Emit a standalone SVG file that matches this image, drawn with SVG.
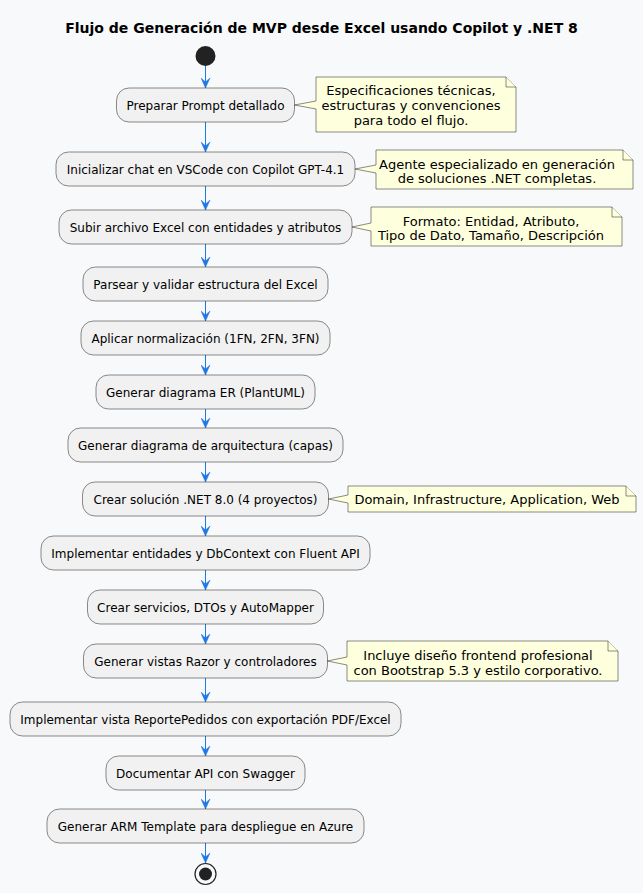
<svg xmlns="http://www.w3.org/2000/svg" width="643" height="893" viewBox="0 0 643 893">
<defs>
<style>
.bg{fill:#F8F9FA}
.act rect{fill:#F1F1F1;stroke:#181818;stroke-width:0.5}
.act text{font-family:"DejaVu Sans","Noto Sans",sans-serif;font-size:12px;fill:#000;text-anchor:middle}
.note path{fill:#FEFFDD;stroke:#181818;stroke-width:0.5}
.note text{font-family:"DejaVu Sans","Noto Sans",sans-serif;font-size:13px;fill:#000;text-anchor:middle}
.title{font-family:"DejaVu Sans","Noto Sans",sans-serif;font-size:14px;font-weight:bold;fill:#000;text-anchor:middle}
.conn line{stroke:#1E78E6;stroke-width:1;marker-end:url(#ah)}
</style>
<marker id="ah" markerUnits="userSpaceOnUse" markerWidth="10" markerHeight="10" refX="10" refY="5" orient="auto" viewBox="0 0 10 10">
<path d="M0,0.5 L10,5 L0,9.5 L4,5 Z" fill="#1E78E6" stroke="#1E78E6" stroke-width="0.5"/>
</marker>
</defs>
<rect class="bg" x="0" y="0" width="643" height="893"/>
<text class="title" x="321.5" y="33">Flujo de Generación de MVP desde Excel usando Copilot y .NET 8</text>

<g id="connectors" class="conn">
<line x1="205.5" y1="66" x2="205.5" y2="88"/>
<line x1="205.5" y1="122" x2="205.5" y2="152"/>
<line x1="205.5" y1="186" x2="205.5" y2="210"/>
<line x1="205.5" y1="244" x2="205.5" y2="267"/>
<line x1="205.5" y1="301" x2="205.5" y2="321"/>
<line x1="205.5" y1="355" x2="205.5" y2="375"/>
<line x1="205.5" y1="409" x2="205.5" y2="428"/>
<line x1="205.5" y1="462" x2="205.5" y2="482"/>
<line x1="205.5" y1="516" x2="205.5" y2="536"/>
<line x1="205.5" y1="570" x2="205.5" y2="590"/>
<line x1="205.5" y1="624" x2="205.5" y2="644"/>
<line x1="205.5" y1="678" x2="205.5" y2="702"/>
<line x1="205.5" y1="736" x2="205.5" y2="756"/>
<line x1="205.5" y1="790" x2="205.5" y2="809"/>
<line x1="205.5" y1="843" x2="205.5" y2="863"/>
</g>

<g id="start"><circle cx="205.5" cy="56" r="10" fill="#222222"/></g>

<g id="a1" class="act"><rect x="116.5" y="88" width="178" height="34" rx="12.5"/><text x="205.5" y="109.5">Preparar Prompt detallado</text></g>
<g id="a2" class="act"><rect x="56" y="152" width="299" height="34" rx="12.5"/><text x="205.5" y="173.5">Inicializar chat en VSCode con Copilot GPT-4.1</text></g>
<g id="a3" class="act"><rect x="59" y="210" width="293" height="34" rx="12.5"/><text x="205.5" y="231.5">Subir archivo Excel con entidades y atributos</text></g>
<g id="a4" class="act"><rect x="83" y="267" width="245" height="34" rx="12.5"/><text x="205.5" y="288.5">Parsear y validar estructura del Excel</text></g>
<g id="a5" class="act"><rect x="81" y="321" width="249" height="34" rx="12.5"/><text x="205.5" y="342.5">Aplicar normalización (1FN, 2FN, 3FN)</text></g>
<g id="a6" class="act"><rect x="96" y="375" width="219" height="34" rx="12.5"/><text x="205.5" y="396.5">Generar diagrama ER (PlantUML)</text></g>
<g id="a7" class="act"><rect x="68" y="428" width="275" height="34" rx="12.5"/><text x="205.5" y="449.5">Generar diagrama de arquitectura (capas)</text></g>
<g id="a8" class="act"><rect x="82.5" y="482" width="246" height="34" rx="12.5"/><text x="205.5" y="503.5">Crear solución .NET 8.0 (4 proyectos)</text></g>
<g id="a9" class="act"><rect x="41" y="536" width="329" height="34" rx="12.5"/><text x="205.5" y="557.5">Implementar entidades y DbContext con Fluent API</text></g>
<g id="a10" class="act"><rect x="87.5" y="590" width="236" height="34" rx="12.5"/><text x="205.5" y="611.5">Crear servicios, DTOs y AutoMapper</text></g>
<g id="a11" class="act"><rect x="83.5" y="644" width="244" height="34" rx="12.5"/><text x="205.5" y="665.5">Generar vistas Razor y controladores</text></g>
<g id="a12" class="act"><rect x="10" y="702" width="391" height="34" rx="12.5"/><text x="205.5" y="723.5">Implementar vista ReportePedidos con exportación PDF/Excel</text></g>
<g id="a13" class="act"><rect x="106" y="756" width="199" height="34" rx="12.5"/><text x="205.5" y="777.5">Documentar API con Swagger</text></g>
<g id="a14" class="act"><rect x="47" y="809" width="317" height="34" rx="12.5"/><text x="205.5" y="830.5">Generar ARM Template para despliegue en Azure</text></g>

<g id="end"><circle cx="205.5" cy="874" r="10.5" fill="none" stroke="#222222" stroke-width="1.2"/><circle cx="205.5" cy="874" r="6.5" fill="#222222"/></g>

<g id="n1" class="note">
<path d="M316,77 L506,77 L516,87 L516,132 L316,132 L316,109 L294.5,105 L316,101 Z"/>
<path d="M506,77 L506,87 L516,87" fill="none"/>
<text x="411" y="95">Especificaciones técnicas,</text>
<text x="411" y="110">estructuras y convenciones</text>
<text x="411" y="125">para todo el flujo.</text>
</g>
<g id="n2" class="note">
<path d="M376,150 L623,150 L633,160 L633,189 L376,189 L376,173 L355,169 L376,165 Z"/>
<path d="M623,150 L623,160 L633,160" fill="none"/>
<text x="497" y="168.5">Agente especializado en generación</text>
<text x="497" y="183">de soluciones .NET completas.</text>
</g>
<g id="n3" class="note">
<path d="M371,207 L612,207 L622,217 L622,246 L371,246 L371,231 L352,227 L371,223 Z"/>
<path d="M612,207 L612,217 L622,217" fill="none"/>
<text x="491" y="225.5">Formato: Entidad, Atributo,</text>
<text x="491" y="240">Tipo de Dato, Tamaño, Descripción</text>
</g>
<g id="n8" class="note">
<path d="M348,486 L626,486 L636,496 L636,512 L348,512 L348,503 L328.5,499 L348,495 Z"/>
<path d="M626,486 L626,496 L636,496" fill="none"/>
<text x="487" y="504">Domain, Infrastructure, Application, Web</text>
</g>
<g id="n11" class="note">
<path d="M347,641 L608,641 L618,651 L618,681 L347,681 L347,665 L327.5,661 L347,657 Z"/>
<path d="M608,641 L608,651 L618,651" fill="none"/>
<text x="478" y="660">Incluye diseño frontend profesional</text>
<text x="478" y="675">con Bootstrap 5.3 y estilo corporativo.</text>
</g>
</svg>
